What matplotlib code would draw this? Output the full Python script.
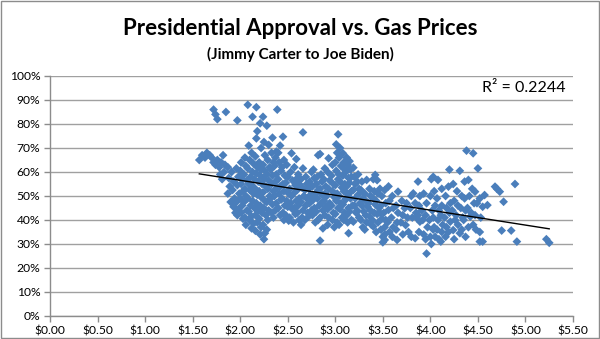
import matplotlib
matplotlib.use("Agg")
import matplotlib.pyplot as plt
import numpy as np
from matplotlib.ticker import FuncFormatter
from matplotlib.patches import Rectangle

# ---------------- data (gas price $, approval %) ----------------
band_a = [(1.57,65),(1.60,67),(1.63,66),(1.65,68),(1.68,67),(1.70,66),(1.72,64),(1.74,63),
          (1.76,65),(1.78,62),(1.80,64),(1.82,67),(1.84,63),(1.72,86),(1.74,84),(1.76,82),
          (1.85,85),(1.79,59),(1.83,60),(1.81,57)]

band_b = [(1.87,62),(1.88,57.5),(1.89,54),(1.87,51),(1.90,47.5),
          (1.91,60),(1.93,56),(1.92,52.5),(1.94,49),(1.93,45.5),(1.95,43),
          (1.97,81.5),(1.96,61.5),(1.98,58),(1.97,54.5),(1.99,51),(1.96,47.5),(1.98,44.5),(1.97,42),
          (2.01,64),(2.00,60.5),(2.02,57),(2.01,55),(2.03,52),(2.00,49),(2.02,46),(2.01,43),(2.03,40.5),
          (2.05,66),(2.06,62.5),(2.04,59),(2.07,56.5),(2.05,53),(2.06,50),(2.04,47.5),(2.07,44),(2.05,41),(2.06,38),
          (2.08,88),(2.09,71),(2.10,65),(2.08,61.5),(2.11,58),(2.09,55),(2.10,52.5),(2.08,49),(2.11,46),(2.09,43.5),(2.10,40),(2.12,36.5),
          (2.13,83),(2.12,68),(2.14,63.5),(2.13,60),(2.15,57),(2.12,54.5),(2.14,51),(2.13,48),(2.15,45),(2.12,41.5),(2.14,38.5),(2.16,35.5),
          (2.17,87),(2.18,77),(2.17,74),(2.16,66.5),(2.18,62),(2.17,59.5),(2.19,56),(2.16,53),(2.18,50.5),(2.17,47),(2.19,44),(2.16,42),(2.18,39),
          (2.21,80.3),(2.22,70),(2.20,64),(2.22,61),(2.21,58.5),(2.23,55),(2.20,52),(2.22,49.5),(2.21,46),(2.23,43),(2.20,40.5),(2.22,37),(2.21,34),
          (2.24,83),(2.25,72.5),(2.26,67),(2.24,63),(2.26,60.5),(2.25,57),(2.27,54),(2.24,51.5),(2.26,48),(2.25,45),(2.27,42),(2.24,38),(2.26,34.5),(2.25,32),
          (2.28,79.3),(2.30,71.3),(2.29,65),(2.31,62),(2.28,59),(2.30,56.5),(2.29,53),(2.31,50),(2.28,47.5),(2.30,44),(2.29,40),(2.28,36),
          (2.34,74.3),(2.33,68),(2.35,64),(2.32,61),(2.34,58.5),(2.33,55),(2.35,52),(2.32,49),(2.34,46.5),(2.33,43),(2.35,41),
          (2.38,68.5),(2.37,66),(2.36,62.5),(2.38,59),(2.37,56),(2.39,53.5),(2.36,50),(2.38,47),(2.37,44),
          (2.39,86),(2.42,71),(2.40,68),(2.41,64),(2.43,60.5),(2.40,57),(2.42,54),(2.41,51),(2.43,48.5),(2.40,45),(2.42,42),
          (2.45,74.7),(2.46,65),(2.44,62),(2.47,58.5),(2.45,55),(2.46,52),(2.44,49),(2.47,46),(2.45,43),(2.46,40)]

band_c = [(2.49,63),(2.50,58),(2.48,55.5),(2.51,51),(2.49,48),(2.50,45.5),(2.48,42),(2.51,39.7),
          (2.54,67.8),(2.53,60),(2.55,56.5),(2.52,53),(2.54,50),(2.53,47),(2.55,44.5),(2.52,41),
          (2.57,62),(2.59,57),(2.58,54.5),(2.56,51),(2.59,48),(2.57,45),(2.58,42.5),(2.56,39),
          (2.59,65.4),(2.61,59),(2.62,55),(2.60,52.5),(2.62,49),(2.61,46),(2.60,43),(2.62,40),
          (2.66,76.5),(2.66,61.5),(2.64,57),(2.65,53.5),(2.67,50),(2.64,47.5),(2.66,44),(2.65,41),(2.64,38),
          (2.69,58),(2.70,55),(2.68,52.5),(2.70,49),(2.69,46),(2.71,43),(2.68,40),
          (2.75,60),(2.73,56),(2.72,53),(2.74,50.5),(2.73,47),(2.75,44),(2.72,41.5),
          (2.77,61),(2.78,57.5),(2.76,54),(2.79,51),(2.77,48.5),(2.78,45),(2.76,42),(2.79,39),
          (2.82,67),(2.81,58),(2.80,55),(2.82,52.5),(2.81,49),(2.83,46),(2.80,43.5),(2.82,40),
          (2.84,67.5),(2.85,59),(2.86,56),(2.84,53),(2.86,50.5),(2.85,47),(2.87,44),(2.84,41),(2.84,31.4),
          (2.89,61.5),(2.88,57),(2.90,54),(2.89,51),(2.88,48),(2.90,45.5),(2.89,42),(2.87,36.5),
          (2.93,65.7),(2.92,60),(2.94,56.5),(2.93,53),(2.91,50),(2.94,47),(2.92,44.5),(2.93,41),(2.92,38)]

band_d = [(2.97,63),(2.96,58.5),(2.98,55),(2.97,52),(2.99,49.5),(2.96,46),(2.98,43),(2.97,40),(2.99,37),
          (3.01,71.5),(3.02,68),(3.00,64),(3.01,60.5),(3.03,57),(3.00,54.5),(3.02,51),(3.01,48),(3.03,45),(3.00,42.5),(3.02,39),
          (3.03,75.7),(3.05,70),(3.04,66),(3.06,62.5),(3.04,59),(3.05,56),(3.07,53.5),(3.04,50),(3.06,47),(3.05,44.5),(3.07,41),(3.04,38),
          (3.08,67.8),(3.09,64),(3.10,61),(3.08,58.5),(3.10,55),(3.09,52),(3.11,49),(3.08,46.5),(3.10,43),(3.09,40),
          (3.12,66),(3.13,63),(3.11,60),(3.14,57.5),(3.12,54),(3.13,51),(3.11,48.5),(3.14,45),(3.12,42),(3.13,39),(3.14,34.5),
          (3.15,64.5),(3.16,61),(3.17,58),(3.15,55.5),(3.17,52),(3.16,49),(3.18,46),(3.15,43.5),(3.17,40),
          (3.19,61.8),(3.20,58),(3.21,55),(3.19,52.5),(3.21,49),(3.20,46),(3.22,43),(3.19,39.3),
          (3.24,59),(3.23,56),(3.25,53),(3.24,50.5),(3.26,47),(3.23,44),(3.25,41),
          (3.28,56),(3.27,52.5),(3.29,49),(3.28,46),(3.30,43.5),(3.27,40),(3.29,37),
          (3.33,56.7),(3.31,51),(3.32,48),(3.34,45.5),(3.32,42),(3.33,39),(3.31,36),
          (3.36,53),(3.37,50),(3.35,47),(3.37,44),(3.36,41.5),(3.38,38),
          (3.40,57),(3.42,58.8),(3.41,52),(3.40,49),(3.42,46.5),(3.41,43),(3.39,40),(3.40,37.3),
          (3.44,56.6),(3.45,51),(3.43,48),(3.46,45),(3.44,42.5),(3.45,39),(3.43,35),
          (3.47,53),(3.49,50),(3.48,46),(3.47,43),(3.49,40.5),(3.48,36),(3.50,33),(3.50,30.7)]

band_e = [(3.52,52.5),(3.53,47),(3.51,43),(3.53,40),(3.52,37),(3.52,34),(3.52,31.7),
          (3.56,54),(3.56,44.2),(3.57,48),(3.55,39),(3.57,35),
          (3.60,50),(3.61,45),(3.59,41),(3.61,37),(3.60,33),
          (3.66,51.8),(3.64,46),(3.66,43),(3.65,39),(3.64,36),(3.65,31.7),
          (3.70,48),(3.73,44.9),(3.71,42),(3.69,39),(3.71,34),
          (3.75,47),(3.76,41),(3.74,37.9),(3.77,35),
          (3.80,50),(3.82,51.1),(3.79,45),(3.81,41),(3.80,33),
          (3.84,47),(3.85,43),(3.86,40.7),(3.84,32.4)]

band_f = [(3.87,56),(3.89,50),(3.88,46),(3.87,42),(3.89,39.3),(3.88,35),
          (3.93,51),(3.91,44),(3.92,40),(3.93,34),
          (3.96,47),(3.95,42),(3.97,37),(3.95,32),(3.96,26),
          (4.01,57),(4.00,50),(4.02,44),(3.99,40),(4.03,36),(4.00,33),(4.01,30),
          (4.03,58),(4.04,52),(4.05,46),(4.03,41),(4.04,37),(4.05,33),
          (4.08,56.7),(4.07,49),(4.09,44),(4.08,40),(4.07,36),(4.09,32),
          (4.12,53),(4.12,46),(4.11,42),(4.13,38),(4.12,35),(4.11,31),
          (4.16,50),(4.17,45),(4.15,41),(4.17,37),(4.16,33),
          (4.20,61),(4.19,53.9),(4.21,47),(4.20,43),(4.21,39.3),(4.19,35),
          (4.24,55),(4.25,48),(4.23,44),(4.26,40),(4.24,35.8),(4.25,32),
          (4.28,52),(4.29,46),(4.27,42),(4.29,38),(4.31,34.5),
          (4.31,60.5),(4.33,50),(4.32,45),(4.34,41),(4.33,36),
          (4.36,56),(4.36,49),(4.37,44),(4.35,40),(4.37,33),
          (4.38,68.9),(4.40,56.7),(4.41,50),(4.39,45),(4.42,41.4),(4.40,37),
          (4.45,67.8),(4.44,53),(4.46,47),(4.43,43),(4.45,38),
          (4.50,61.5),(4.47,51.8),(4.49,47),(4.47,42),(4.48,36),(4.52,31),
          (4.52,49),(4.55,45.5),(4.53,41),(4.52,35),
          (4.57,50.4),(4.60,46.2),(4.55,31)]

band_g = [(4.68,53.9),(4.70,53),(4.73,51.8),(4.77,47.6),(4.75,35.6),(4.85,35.6),
          (4.89,55),(4.91,31),(5.22,32),(5.25,30.5)]

title = "Presidential Approval vs. Gas Prices"
subtitle = "(Jimmy Carter to Joe Biden)"
r2_label = "R² = 0.2244"
x_ticks = [0, 0.5, 1, 1.5, 2, 2.5, 3, 3.5, 4, 4.5, 5, 5.5]
y_ticks = [0, 10, 20, 30, 40, 50, 60, 70, 80, 90, 100]

# ---------------- plot ----------------
pts = band_a + band_b + band_c + band_d + band_e + band_f + band_g
price = np.array([p[0] for p in pts])
approval = np.array([p[1] for p in pts])

plt.rcParams['font.family'] = ['Lato', 'DejaVu Sans']

fig = plt.figure(figsize=(6.0, 3.39), dpi=100)
fig.patch.set_facecolor('white')
fig.add_artist(Rectangle((0.001, 0.0015), 0.997, 0.996, transform=fig.transFigure,
                         fill=False, edgecolor='#8c8c8c', linewidth=1.0))

ax = fig.add_axes([50/600, 1-316/339, 523/600, 240/339])
ax.set_xlim(0, 5.5)
ax.set_ylim(0, 100)
ax.set_xticks(x_ticks)
ax.set_yticks(y_ticks)
ax.xaxis.set_major_formatter(FuncFormatter(lambda v, p: f"${v:.2f}"))
ax.yaxis.set_major_formatter(FuncFormatter(lambda v, p: f"{int(round(v))}%"))
ax.grid(axis='y', color='#a0a0a0', linewidth=1.0)
ax.set_axisbelow(True)
for s in ['top', 'right']:
    ax.spines[s].set_visible(False)
for s in ['left', 'bottom']:
    ax.spines[s].set_color('#8c8c8c')
    ax.spines[s].set_linewidth(1.0)
ax.tick_params(axis='both', direction='out', length=4, width=1, color='#8c8c8c',
               labelsize=8.7, labelcolor='#000000', pad=3)

ax.scatter(price, approval, marker='D', s=20, color='#4a7ebb', edgecolors='none', zorder=3)

coef = np.polyfit(price, approval, 1)
xl = np.array([price.min(), price.max()])
ax.plot(xl, np.polyval(coef, xl), color='black', linewidth=1.0, zorder=4)

ax.text(0.985, 0.95, r2_label, transform=ax.transAxes, ha='right', va='center', fontsize=11.5)

fig.text(0.5, 0.915, title, ha='center', va='center', fontsize=16, fontweight='bold')
fig.text(0.5, 0.84, subtitle, ha='center', va='center', fontsize=11, fontweight='bold')

fig.savefig('out.png', dpi=100)
